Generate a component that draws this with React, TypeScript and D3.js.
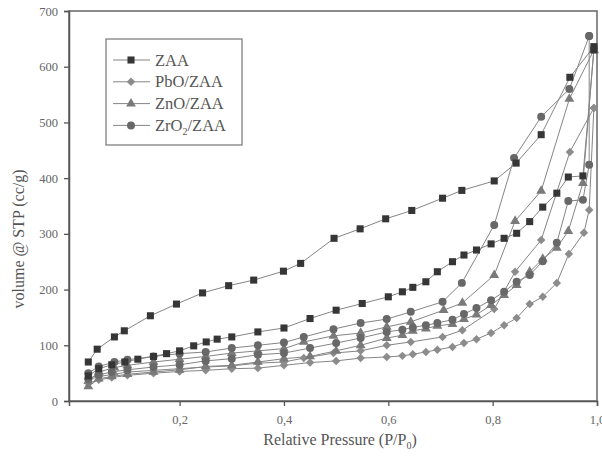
import { useEffect, useRef } from "react";
import * as d3 from "d3";

// [P/P0, volume] pairs, adsorption going up then desorption coming back down
const zaaAds = [
  [0.025, 45], [0.045, 58], [0.07, 65], [0.095, 70], [0.12, 75], [0.15, 80], [0.175, 85], [0.2, 90],
  [0.227, 99], [0.251, 106], [0.272, 111], [0.3, 115], [0.35, 124], [0.4, 131], [0.45, 148], [0.5, 163],
  [0.55, 175], [0.6, 187], [0.627, 196], [0.647, 204], [0.672, 214], [0.694, 232], [0.723, 250],
  [0.745, 262], [0.769, 271], [0.797, 282], [0.822, 292], [0.846, 301], [0.871, 322], [0.896, 348],
  [0.923, 373], [0.945, 402], [0.973, 404], [0.994, 630],
];
const zaaDes = [
  [0.994, 636], [0.948, 581], [0.893, 478], [0.845, 427], [0.803, 395], [0.741, 378], [0.704, 364],
  [0.645, 342], [0.595, 327], [0.546, 309], [0.496, 292], [0.432, 247], [0.399, 233], [0.342, 217],
  [0.294, 207], [0.244, 194], [0.194, 174], [0.144, 153], [0.094, 126], [0.075, 115], [0.042, 93],
  [0.025, 70],
];
const pboAds = [
  [0.025, 32], [0.045, 38], [0.07, 42], [0.1, 46], [0.15, 50], [0.2, 53], [0.25, 55], [0.3, 58],
  [0.35, 59], [0.4, 64], [0.45, 69], [0.5, 72], [0.547, 77], [0.597, 79], [0.627, 81], [0.647, 84],
  [0.672, 88], [0.694, 92], [0.723, 97], [0.745, 104], [0.769, 111], [0.797, 122], [0.822, 136],
  [0.846, 149], [0.871, 174], [0.896, 187], [0.923, 212], [0.946, 264], [0.975, 302], [0.985, 343],
  [0.994, 526],
];
const pboDes = [
  [0.994, 526], [0.948, 447], [0.893, 289], [0.843, 232], [0.803, 165], [0.742, 127], [0.704, 115],
  [0.643, 106], [0.597, 100], [0.547, 90], [0.495, 86], [0.438, 77], [0.4, 70], [0.35, 68], [0.3, 63],
  [0.25, 61], [0.2, 58], [0.15, 55], [0.1, 52], [0.075, 48], [0.045, 44], [0.025, 38],
];
const znoAds = [
  [0.025, 26], [0.045, 40], [0.07, 44], [0.1, 48], [0.15, 52], [0.2, 56], [0.25, 62], [0.3, 64],
  [0.35, 70], [0.4, 76], [0.45, 80], [0.5, 90], [0.547, 100], [0.597, 113], [0.627, 118], [0.647, 126],
  [0.672, 130], [0.694, 135], [0.723, 138], [0.745, 147], [0.769, 155], [0.797, 172], [0.822, 190],
  [0.846, 208], [0.871, 232], [0.896, 255], [0.923, 275], [0.945, 305], [0.973, 391], [0.994, 630],
];
const znoDes = [
  [0.994, 630], [0.947, 542], [0.893, 377], [0.843, 323], [0.803, 226], [0.742, 176], [0.706, 163],
  [0.643, 142], [0.597, 133], [0.547, 122], [0.495, 117], [0.438, 106], [0.4, 94], [0.35, 90],
  [0.3, 86], [0.25, 80], [0.2, 75], [0.15, 70], [0.1, 64], [0.075, 60], [0.045, 52], [0.025, 36],
];
const zro2Ads = [
  [0.025, 40], [0.045, 47], [0.07, 52], [0.1, 56], [0.15, 61], [0.2, 65], [0.25, 72], [0.3, 76],
  [0.35, 83], [0.4, 86], [0.45, 95], [0.5, 104], [0.547, 113], [0.597, 124], [0.627, 128], [0.647, 132],
  [0.672, 136], [0.694, 140], [0.723, 146], [0.745, 156], [0.769, 167], [0.797, 181], [0.822, 196],
  [0.846, 214], [0.871, 226], [0.896, 251], [0.923, 284], [0.945, 359], [0.973, 361], [0.985, 424],
  [0.985, 655],
];
const zro2Des = [
  [0.985, 655], [0.947, 560], [0.893, 510], [0.841, 436], [0.803, 316], [0.741, 212], [0.704, 178],
  [0.643, 160], [0.597, 147], [0.547, 140], [0.495, 129], [0.438, 115], [0.4, 105], [0.35, 100],
  [0.3, 95], [0.25, 88], [0.2, 85], [0.15, 80], [0.1, 74], [0.075, 70], [0.045, 62], [0.025, 50],
];

const seriesNames = ["ZAA", "PbO/ZAA", "ZnO/ZAA", "ZrO2/ZAA"];
const xTicks = [0.2, 0.4, 0.6, 0.8, 1.0];
const yTicks = [0, 100, 200, 300, 400, 500, 600, 700];

const W = 602,
  H = 467;
const margin = { top: 11, right: 5, bottom: 66, left: 69 };
const FONT = '"Liberation Serif", "Times New Roman", Tinos, serif';

const series = [
  { name: seriesNames[1], data: pboAds.concat(pboDes), shape: "diamond", color: "#8c8c8c" },
  { name: seriesNames[2], data: znoAds.concat(znoDes), shape: "triangle", color: "#7a7a7a" },
  { name: seriesNames[3], data: zro2Ads.concat(zro2Des), shape: "circle", color: "#686868" },
  { name: seriesNames[0], data: zaaAds.concat(zaaDes), shape: "square", color: "#363636" },
];

function symbolPath(shape: string) {
  if (shape === "square") return d3.symbol(d3.symbolSquare, 50)();
  if (shape === "triangle") return d3.symbol(d3.symbolTriangle, 42)();
  if (shape === "circle") return d3.symbol(d3.symbolCircle, 50)();
  return d3.symbol(d3.symbolSquare, 36)();
}

function drawChart(el: SVGSVGElement) {
  const svg = d3.select(el);
  svg.selectAll("*").remove();

  const x = d3.scaleLinear().domain([-0.012, 1.0]).range([margin.left, W - margin.right]);
  const y = d3.scaleLinear().domain([0, 700]).range([H - margin.bottom, margin.top]);
  const fmt = (d: number) => d3.format(".1f")(d).replace(".", ",");

  svg.append("rect").attr("width", W).attr("height", H).attr("fill", "#fff");

  // frame
  svg
    .append("rect")
    .attr("x", margin.left)
    .attr("y", margin.top)
    .attr("width", W - margin.left - margin.right)
    .attr("height", H - margin.top - margin.bottom)
    .attr("fill", "none")
    .attr("stroke", "#666")
    .attr("stroke-width", 1.5);

  const gx = svg
    .append("g")
    .attr("transform", `translate(0,${H - margin.bottom})`)
    .call(d3.axisBottom(x).tickValues(xTicks).tickFormat(fmt as any).tickSize(5).tickPadding(9));
  const gy = svg
    .append("g")
    .attr("transform", `translate(${margin.left},0)`)
    .call(d3.axisLeft(y).tickValues(yTicks).tickSize(5).tickPadding(6));
  [gx, gy].forEach((g) => {
    g.attr("font-family", FONT);
    g.select(".domain").attr("stroke", "#555").attr("stroke-width", 1.5);
    g.selectAll(".tick line").attr("stroke", "#555").attr("stroke-width", 1.3);
    g.selectAll(".tick text").attr("fill", "#666").style("font-family", FONT).attr("font-size", 12.5);
  });

  const line = d3
    .line<number[]>()
    .x((d) => x(d[0]))
    .y((d) => y(d[1]));

  series.forEach((s) => {
    svg
      .append("path")
      .datum(s.data)
      .attr("d", line)
      .attr("fill", "none")
      .attr("stroke", "#858585")
      .attr("stroke-width", 1);
  });
  series.forEach((s) => {
    svg
      .append("g")
      .selectAll("path")
      .data(s.data)
      .join("path")
      .attr("d", symbolPath(s.shape))
      .attr(
        "transform",
        (d) => `translate(${x(d[0])},${y(d[1])})` + (s.shape === "diamond" ? " rotate(45)" : "")
      )
      .attr("fill", s.color);
  });

  // legend
  const lg = svg.append("g");
  lg.append("rect")
    .attr("x", 106)
    .attr("y", 39)
    .attr("width", 136)
    .attr("height", 106)
    .attr("fill", "#fff")
    .attr("stroke", "#777")
    .attr("stroke-width", 1.2);
  const order = [3, 0, 1, 2];
  order.forEach((k, i) => {
    const s = series[k];
    const ly = 60 + i * 21.8;
    lg.append("line")
      .attr("x1", 113)
      .attr("x2", 150)
      .attr("y1", ly)
      .attr("y2", ly)
      .attr("stroke", "#858585")
      .attr("stroke-width", 1);
    lg.append("path")
      .attr("d", symbolPath(s.shape))
      .attr("transform", `translate(131,${ly})` + (s.shape === "diamond" ? " rotate(45)" : ""))
      .attr("fill", s.color);
    const t = lg
      .append("text")
      .attr("x", 155)
      .attr("y", ly + 5.5)
      .attr("fill", "#555")
      .style("font-family", FONT)
      .attr("font-size", 16.5);
    if (s.name === "ZrO2/ZAA") {
      t.append("tspan").text("ZrO");
      t.append("tspan").attr("font-size", 10).attr("dy", 4).text("2");
      t.append("tspan").attr("dy", -4).text("/ZAA");
    } else {
      t.text(s.name);
    }
  });

  // axis titles
  svg
    .append("text")
    .attr("transform", `translate(24,239) rotate(-90)`)
    .attr("text-anchor", "middle")
    .attr("fill", "#555")
    .style("font-family", FONT)
    .attr("font-size", 16)
    .text("volume @ STP (cc/g)");
  const xt = svg
    .append("text")
    .attr("x", 340)
    .attr("y", 445)
    .attr("text-anchor", "middle")
    .attr("fill", "#555")
    .style("font-family", FONT)
    .attr("font-size", 16);
  xt.append("tspan").text("Relative Pressure (P/P");
  xt.append("tspan").attr("font-size", 10).attr("dy", 4).text("0");
  xt.append("tspan").attr("dy", -4).text(")");
}

export default function App() {
  const ref = useRef<SVGSVGElement>(null);
  useEffect(() => {
    if (ref.current) drawChart(ref.current);
  }, []);
  return (
    <svg
      ref={ref}
      width={W}
      height={H}
      style={{ position: "absolute", left: 0, top: 0, display: "block" }}
    />
  );
}
